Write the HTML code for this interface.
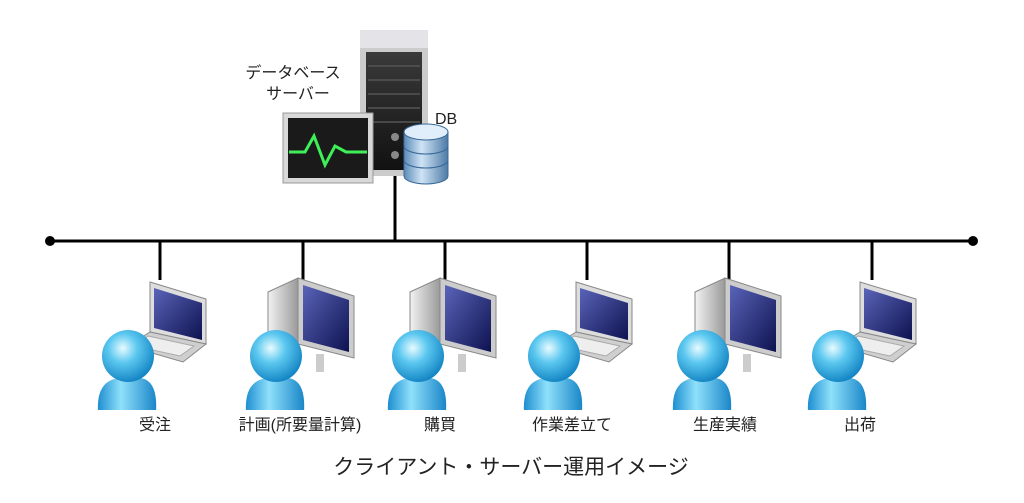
<!DOCTYPE html>
<html><head><meta charset="utf-8"><style>
body{margin:0;background:#fff;}
svg{display:block;font-family:"Liberation Sans","Noto Sans CJK JP",sans-serif;}
</style></head><body>
<svg width="1024" height="503" viewBox="0 0 1024 503" xmlns="http://www.w3.org/2000/svg">
<defs>
<linearGradient id="scr" x1="0" y1="0" x2="1" y2="1"><stop offset="0" stop-color="#5a64b8"/><stop offset="1" stop-color="#0d1250"/></linearGradient>
<linearGradient id="sil" x1="0" y1="0" x2="1" y2="0"><stop offset="0" stop-color="#f2f2f2"/><stop offset="1" stop-color="#9a9a9a"/></linearGradient>
<radialGradient id="head" cx="0.4" cy="0.35" r="0.7"><stop offset="0" stop-color="#e8fbff"/><stop offset="0.4" stop-color="#5cc8f0"/><stop offset="1" stop-color="#0d7fc0"/></radialGradient>
<linearGradient id="bod" x1="0" y1="0" x2="1" y2="0"><stop offset="0" stop-color="#1e8fd0"/><stop offset="0.4" stop-color="#8fe0fb"/><stop offset="1" stop-color="#1a86c8"/></linearGradient>
<linearGradient id="tower" x1="0" y1="0" x2="0" y2="1"><stop offset="0" stop-color="#3a3a3a"/><stop offset="1" stop-color="#111"/></linearGradient>
<linearGradient id="db" x1="0" y1="0" x2="1" y2="0"><stop offset="0" stop-color="#5c8cb8"/><stop offset="0.4" stop-color="#cfe3f5"/><stop offset="1" stop-color="#4d7aa6"/></linearGradient>
<g id="person">
<path d="M-30,58 Q-32,26 -8,24 L12,24 Q30,26 28,58 Z" fill="url(#bod)"/>
<circle cx="0" cy="2" r="26" fill="url(#head)"/>
</g>
<g id="laptop">
<polygon points="22,-72 78,-55 78,-10 22,-22" fill="#ddd" stroke="#888"/>
<polygon points="26,-66 74,-51 74,-14 26,-26" fill="url(#scr)"/>
<polygon points="22,-22 78,-10 55,8 0,-8" fill="#cfcfcf" stroke="#888"/>
<polygon points="20,-18 66,-8 52,2 6,-8" fill="#eee" stroke="#aaa"/>
</g>
<g id="desk">
<polygon points="-8,-62 22,-76 22,-10 -8,0" fill="url(#sil)" stroke="#888"/>
<polygon points="22,-76 78,-58 78,4 22,-10" fill="#ccc" stroke="#888"/>
<polygon points="27,-69 73,-54 73,-2 27,-14" fill="url(#scr)"/>
<rect x="40" y="0" width="8" height="18" fill="#ccc"/>
</g>
</defs>
<line x1="50" y1="241" x2="973" y2="241" stroke="#000" stroke-width="3"/>
<circle cx="50" cy="241" r="5"/><circle cx="973" cy="241" r="5"/>
<line x1="395" y1="175" x2="395" y2="241" stroke="#000" stroke-width="3"/>
<g stroke="#000" stroke-width="3">
<line x1="160" y1="241" x2="160" y2="280"/><line x1="303" y1="241" x2="303" y2="280"/>
<line x1="445" y1="241" x2="445" y2="280"/><line x1="587" y1="241" x2="587" y2="280"/>
<line x1="729" y1="241" x2="729" y2="280"/><line x1="872" y1="241" x2="872" y2="280"/>
</g>
<rect x="360" y="30" width="68" height="146" fill="#ccc"/>
<rect x="360" y="30" width="68" height="18" fill="#e4e4e8"/>
<rect x="366" y="52" width="56" height="118" fill="url(#tower)"/>
<g stroke="#555" stroke-width="1.5"><line x1="368" y1="66" x2="420" y2="66"/><line x1="368" y1="80" x2="420" y2="80"/><line x1="368" y1="94" x2="420" y2="94"/><line x1="368" y1="108" x2="420" y2="108"/><line x1="368" y1="122" x2="420" y2="122"/></g>
<circle cx="395" cy="137" r="4" fill="#888"/><circle cx="395" cy="155" r="4" fill="#888"/>
<rect x="283" y="113" width="90" height="70" fill="#d8d8d8" stroke="#999"/>
<rect x="288" y="118" width="80" height="60" fill="#1a1a1a"/>
<polyline points="289,152 305,152 314,136 325,165 335,146 346,152 367,152" fill="none" stroke="#3ef058" stroke-width="3"/>
<g fill="url(#db)" stroke="#3a6a98">
<path d="M404,160 v16 a22,8 0 0 0 44,0 v-16 z"/><ellipse cx="426" cy="160" rx="22" ry="8"/>
<path d="M404,146 v14 a22,8 0 0 0 44,0 v-14 z"/><ellipse cx="426" cy="146" rx="22" ry="8"/>
<path d="M404,132 v14 a22,8 0 0 0 44,0 v-14 z"/><ellipse cx="426" cy="132" rx="22" ry="8" fill="#dfeefa"/>
</g>
<text x="293" y="78" font-size="16" text-anchor="middle" fill="#222">データベース</text>
<text x="298" y="99" font-size="16" text-anchor="middle" fill="#222">サーバー</text>
<text x="435" y="124" font-size="16" fill="#222">DB</text>
<g transform="translate(128,354)"><use href="#laptop"/><use href="#person"/></g>
<g transform="translate(276,354)"><use href="#desk"/><use href="#person"/></g>
<g transform="translate(418,354)"><use href="#desk"/><use href="#person"/></g>
<g transform="translate(554,354)"><use href="#laptop"/><use href="#person"/></g>
<g transform="translate(703,354)"><use href="#desk"/><use href="#person"/></g>
<g transform="translate(838,354)"><use href="#laptop"/><use href="#person"/></g>
<rect x="0" y="410" width="1024" height="10" fill="#fff"/>
<g font-size="16" text-anchor="middle" fill="#222">
<text x="155" y="430">受注</text><text x="300" y="430">計画(所要量計算)</text>
<text x="440" y="430">購買</text><text x="572" y="430">作業差立て</text>
<text x="725" y="430">生産実績</text><text x="860" y="430">出荷</text>
</g>
<text x="511" y="474" font-size="21" text-anchor="middle" fill="#222">クライアント・サーバー運用イメージ</text>
</svg>
</body></html>
